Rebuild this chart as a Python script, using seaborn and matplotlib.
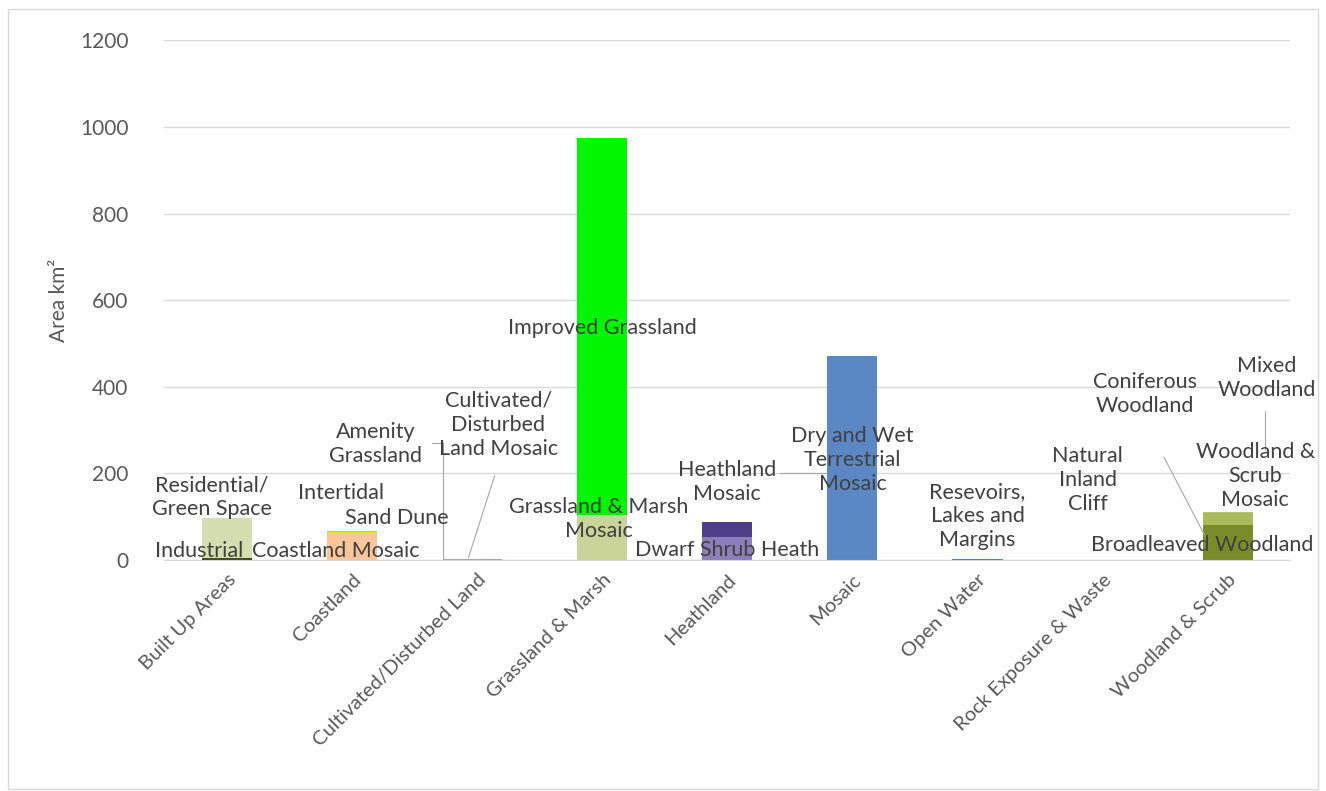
import numpy as np
import pandas as pd
import matplotlib.pyplot as plt
import seaborn as sns
from matplotlib.patches import Rectangle

# categories on the x axis
categories = ["Built Up Areas", "Coastland", "Cultivated/Disturbed Land", "Grassland & Marsh",
              "Heathland", "Mosaic", "Open Water", "Rock Exposure & Waste", "Woodland & Scrub"]

# each habitat series, the category it belongs to and its area (km2), bottom to top
series_names = ["Industrial", "Residential/\nGreen Space",
                "Coastland Mosaic", "Sand Dune", "Intertidal",
                "Amenity\nGrassland", "Cultivated/\nDisturbed\nLand Mosaic",
                "Grassland & Marsh\nMosaic", "Improved Grassland",
                "Dwarf Shrub Heath", "Heathland\nMosaic",
                "Dry and Wet\nTerrestrial\nMosaic",
                "Resevoirs,\nLakes and\nMargins",
                "Natural\nInland\nCliff",
                "Broadleaved Woodland", "Woodland &\nScrub\nMosaic", "Coniferous\nWoodland", "Mixed\nWoodland"]
series_cat = [0, 0, 1, 1, 1, 2, 2, 3, 3, 4, 4, 5, 6, 7, 8, 8, 8, 8]
series_val = [5, 92, 62, 3, 1, 1, 1, 104, 871, 53, 35, 471, 2, 1, 81, 28, 1, 1]
series_col = ["#3F4A1E", "#D5DEB0", "#F9C59A", "#E8E800", "#9DC3E6",
              "#4BACC6", "#8EB4A0", "#C9D39A", "#00F500", "#8A7FB8", "#4F3F8A",
              "#5B87C5", "#4F81BD", "#A6A6A6", "#7A8C2A", "#ABBA5C", "#B5C46E", "#B0C060"]

# label offsets (category units, km2) from the bar centre
lab_dx = [-0.22, -0.12, -0.13, 0.36, -0.09, -0.81, 0.17, -0.03, 0.0, 0.0, 0.0, 0.0, 0.0, -0.12, -0.2, 0.22, -0.66, 0.31]
lab_y = [21, 145, 21, 97, 155, 268, 312, 95, 536, 23, 180, 231, 102, 185, 35, 194, 383, 420]

df = pd.DataFrame({"series": series_names, "cat": series_cat, "value": series_val, "color": series_col})
df["top"] = df.groupby("cat")["value"].cumsum()

sns.set_style("white")
plt.rcParams["font.family"] = ["Lato", "DejaVu Sans"]

fig = plt.figure(figsize=(13.26, 7.91), dpi=100)
ax = fig.add_axes([0.124, 0.292, 0.849, 0.657])
fig.patches.append(Rectangle((0.006, 0.003), 0.988, 0.985, transform=fig.transFigure,
                             fill=False, edgecolor="#D9D9D9", lw=1))

ax.set_axisbelow(True)
ax.yaxis.grid(True, color="#D9D9D9", lw=1)

# draw tops first so lower segments sit over them
for i in reversed(range(len(df))):
    r = df.iloc[i]
    sns.barplot(x=[categories[r["cat"]]], y=[r["top"]], order=categories,
                color=r["color"], width=0.4, saturation=1, linewidth=0, ax=ax)

for i, r in df.iterrows():
    ax.text(r["cat"] + lab_dx[i], lab_y[i], r["series"], ha="center", va="center",
            fontsize=15.5, color="#404040", linespacing=1.25)

# leader lines
lc = "#A6A6A6"
ax.plot([2 - 0.27, 2 - 0.27, 2 + 0.12], [270, 2, 2], color=lc, lw=0.8)
ax.plot([2 - 0.36, 2 - 0.27], [270, 270], color=lc, lw=0.8)
ax.plot([2 + 0.14, 2 - 0.07], [195, 5], color=lc, lw=0.8)
ax.plot([4 + 0.42, 4 + 0.8], [200, 200], color=lc, lw=0.8)
ax.plot([8 - 0.51, 8 - 0.18], [238, 55], color=lc, lw=0.8)
ax.plot([8 + 0.3, 8 + 0.3], [345, 255], color=lc, lw=0.8)

ax.set_ylim(0, 1200)
ax.set_xlim(-0.5, 8.5)
ax.set_yticks(np.arange(0, 1201, 200))
ax.set_xlabel("")
ax.set_ylabel("Area km²", fontsize=15, color="#595959", labelpad=8)
ax.tick_params(axis="y", labelsize=15, labelcolor="#595959", length=0, pad=26)
ax.tick_params(axis="x", labelsize=14.5, labelcolor="#595959", length=0, pad=8)
plt.setp(ax.get_xticklabels(), rotation=45, ha="right", rotation_mode="anchor")
for s in ["top", "right", "left"]:
    ax.spines[s].set_visible(False)
ax.spines["bottom"].set_color("#D9D9D9")

fig.savefig("out.png", dpi=100)
